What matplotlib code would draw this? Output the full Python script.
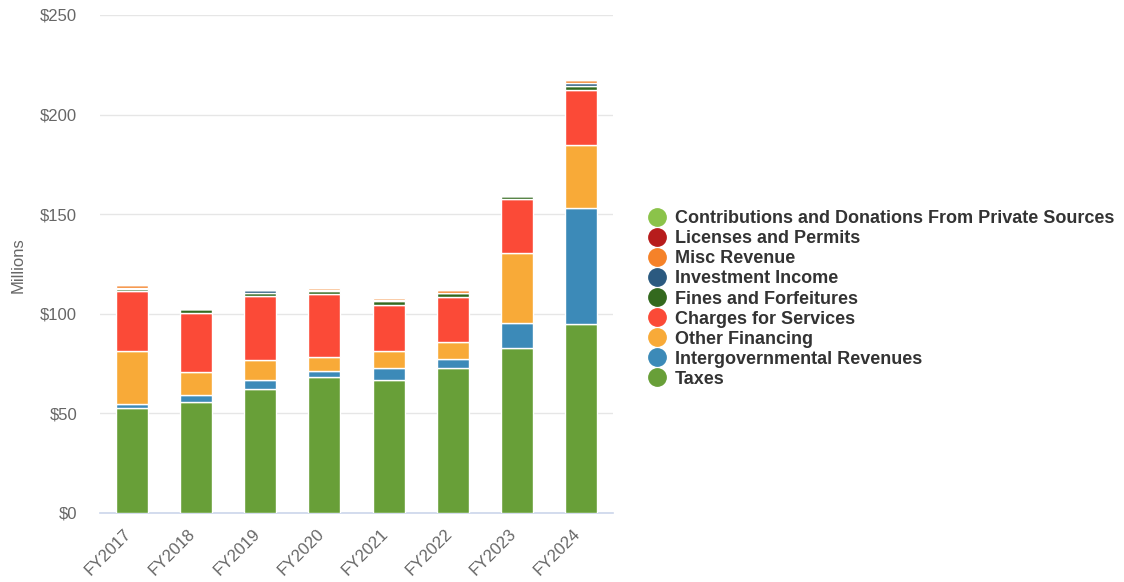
import matplotlib
matplotlib.use("Agg")
import matplotlib.pyplot as plt
from matplotlib.lines import Line2D
import matplotlib.transforms as mtransforms
import numpy as np

plt.rcParams['font.family'] = ['Liberation Sans', 'DejaVu Sans']

years = ["FY2017", "FY2018", "FY2019", "FY2020", "FY2021", "FY2022", "FY2023", "FY2024"]

# stacked bottom -> top
taxes          = [52.6, 55.7, 62.2, 68.3, 66.8, 72.8, 82.8, 94.9]
intergov       = [2.2, 3.5, 4.6, 3.0, 6.0, 4.5, 12.6, 58.0]
other_fin      = [26.6, 11.6, 10.0, 6.8, 8.5, 8.5, 35.1, 31.8]
charges        = [30.1, 29.6, 32.1, 31.6, 23.1, 22.4, 26.9, 27.6]
fines          = [1.2, 2.0, 1.5, 1.7, 1.8, 2.2, 1.5, 2.1]
investment     = [0.5, 0.0, 1.5, 0.6, 0.7, 0.2, 0.0, 1.5]
misc           = [1.3, 0.0, 0.0, 1.2, 1.1, 1.5, 0.0, 1.5]
licenses       = [0.0, 0.0, 0.0, 0.0, 0.0, 0.0, 0.0, 0.0]
contributions  = [0.0, 0.0, 0.0, 0.0, 0.0, 0.0, 0.0, 0.0]

series_names = ["Taxes", "Intergovernmental Revenues", "Other Financing",
                "Charges for Services", "Fines and Forfeitures", "Investment Income",
                "Misc Revenue", "Licenses and Permits",
                "Contributions and Donations From Private Sources"]
series_vals = [taxes, intergov, other_fin, charges, fines, investment, misc,
               licenses, contributions]
series_colors = ["#689f38", "#3c8ab8", "#f8aa38", "#fb4a37", "#33691e", "#2b5a80",
                 "#f58229", "#b71c1c", "#8bc34a"]

fig = plt.figure(figsize=(11.24, 5.82), dpi=100)
ax = fig.add_axes([100/1124, 69/582, 513/1124, 498/582])

x = np.arange(len(years))
bottom = np.zeros(len(years))
for name, vals, col in zip(series_names, series_vals, series_colors):
    v = np.array(vals, dtype=float)
    ax.bar(x, v, bottom=bottom, width=0.5, color=col, edgecolor="white",
           linewidth=1, zorder=3)
    bottom += v

ax.set_xlim(-0.5, len(years) - 0.5)
ax.set_ylim(0, 250)
ax.set_yticks([0, 50, 100, 150, 200, 250])
ax.set_yticklabels(["$0", "$50", "$100", "$150", "$200", "$250"])
ax.yaxis.grid(True, color="#e6e6e6", linewidth=1, zorder=0)
ax.set_axisbelow(True)
for s in ["top", "right", "left"]:
    ax.spines[s].set_visible(False)
ax.spines["bottom"].set_color("#ccd6eb")
ax.spines["bottom"].set_linewidth(1.2)
ax.tick_params(axis="y", length=0, pad=16.5, labelsize=12, labelcolor="#666666")
ax.tick_params(axis="x", length=0, pad=13, labelsize=12, labelcolor="#666666")
ax.set_xticks(x)
ax.set_xticklabels(years, rotation=45, ha="right", va="center",
                   rotation_mode="anchor")
offset = mtransforms.ScaledTranslation(-3/100, 0, fig.dpi_scale_trans)
for lbl in ax.get_xticklabels():
    lbl.set_transform(lbl.get_transform() + offset)

fig.text(18/1124, 1 - 265/582, "Millions", rotation=90, fontsize=12,
         color="#666666", ha="center", va="center")

handles = [Line2D([], [], marker="o", linestyle="", markersize=12.5,
                  markerfacecolor=c, markeredgecolor=c)
           for c in series_colors[::-1]]
leg = fig.legend(handles, series_names[::-1], loc="center left",
                 bbox_to_anchor=(637/1124, (582 - 299)/582), frameon=False,
                 prop={"weight": "bold", "size": 13}, labelcolor="#333333",
                 handletextpad=0.4, labelspacing=0.17, handlelength=1.2,
                 borderpad=0)

fig.savefig("out.png", dpi=100)
